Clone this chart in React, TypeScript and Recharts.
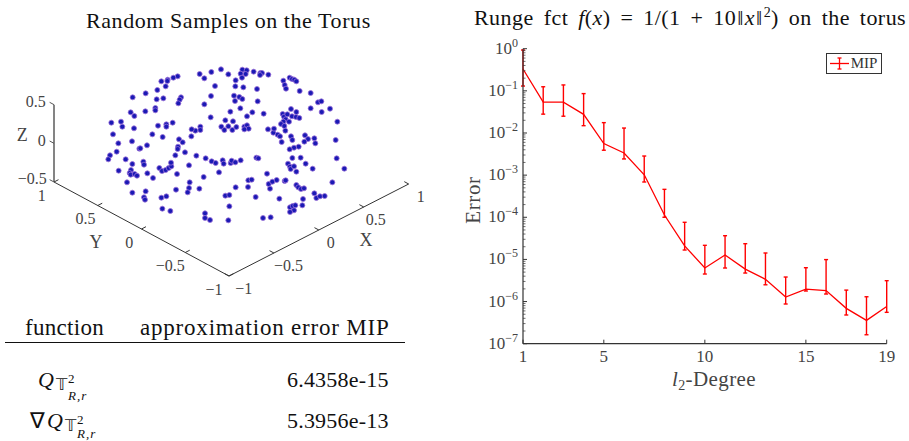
import {
  ScatterChart, Scatter, XAxis, YAxis, ReferenceLine, ReferenceDot,
  LineChart, Line, ErrorBar, Legend, Label,
} from 'recharts'

const SERIF = '"Liberation Serif", serif'

// right chart: error per degree
const degrees = [1, 2, 3, 4, 5, 6, 7, 8, 9, 10, 11, 12, 13, 14, 15, 16, 17, 18, 19]
const meanError = [0.33, 0.054, 0.054, 0.0277, 0.0056, 0.00335, 0.00102, 1.13e-4, 2.1e-5, 6.25e-6, 1.27e-5, 5.9e-6, 3.37e-6, 1.28e-6, 1.98e-6, 1.82e-6, 6.9e-7, 3.58e-7, 7.6e-7]
const lowError = [0.13, 0.028, 0.025, 0.0149, 0.0039, 0.00242, 6.87e-4, 1.0e-4, 1.67e-5, 4.5e-6, 6.25e-6, 4.75e-6, 2.5e-6, 8.75e-7, 1.78e-6, 1.51e-6, 4.8e-7, 1.63e-7, 5.55e-7]
const highError = [0.93, 0.125, 0.138, 0.086, 0.0176, 0.0131, 0.00284, 4.6e-4, 7.6e-5, 2.16e-5, 3.65e-5, 2.36e-5, 1.42e-5, 3.82e-6, 6.35e-6, 9.9e-6, 1.87e-6, 1.3e-6, 3.13e-6]
const degreeTicks = [1, 5, 10, 15, 19]
const decades = [-7, -6, -5, -4, -3, -2, -1, 0]
const minorSteps = [2, 3, 4, 5, 6, 7, 8, 9]

const errorTicks: number[] = []
decades.forEach((d) => {
  errorTicks.push(Math.pow(10, d))
  if (d < 0) minorSteps.forEach((m) => errorTicks.push(m * Math.pow(10, d)))
})

const errorData = degrees.map((degree, i) => ({
  degree,
  mean: meanError[i],
  err: [meanError[i] - lowError[i], highError[i] - meanError[i]],
}))

// left chart: the samples as seen in the view plane of the 3D plot
const samples = [
  [599,222],[613,235],[634,216],[663,208],[685,223],[727,209],[740,211],[722,221],[737,222],[726,233],[761,215],[781,219],[786,219],[780,225],[805,224],[707,241],[706,259],[645,258],[730,262],[771,267],
  [850,242],[854,255],[858,266],[869,233],[876,237],[883,239],[889,244],[899,273],[932,279],
  [533,229],[520,233],[503,239],[502,243],[484,244],[497,259],[472,270],[437,280],[398,292],
  [470,298],[490,295],[543,292],[539,299],[535,310],[466,324],[466,331],[436,334],[392,337],[403,348],[334,368],[363,365],[367,380],[402,385],
  [474,377],[499,373],[499,380],[518,368],[457,403],[488,411],[339,403],[355,430],[396,424],[418,446],[421,445],[441,436],[350,455],[330,466],[325,478],[377,478],[397,492],[430,485],[432,494],
  [356,512],[393,510],[389,519],[392,524],[404,522],[411,527],[442,520],[459,534],[381,547],[397,578],[437,574],[432,592],[435,599],[484,593],[499,589],[487,626],[511,633],
  [478,504],[486,513],[497,510],[506,504],[514,499],[513,488],[531,522],[526,466],[534,440],[533,447],[555,457],[537,418],[548,427],[567,496],[589,467],[617,475],[635,484],[647,489],[668,481],[671,491],[692,489],[695,482],[706,487],[722,481],[657,517],[611,531],[569,547],[567,564],[563,577],[528,569],[598,566],[615,640],[615,654],[630,660],[685,661],[688,619],[676,587],[688,585],[707,562],[745,541],[755,539],[744,561],[767,591],[801,521],[806,552],[817,545],[830,540],[810,566],[854,543],[857,541],[838,596],[789,654],[812,652],[769,473],[775,475],
  [864,491],[870,500],[872,507],[882,499],[889,515],[917,491],[938,506],[877,474],[902,473],[889,555],[895,562],[903,567],[912,565],[943,580],[949,594],[960,589],[974,588],[997,547],[1033,506],[1010,475],[1007,420],[1012,365],[990,326],[965,336],[954,307],[964,304],[932,325],
  [873,327],[889,336],[848,342],[852,350],[862,343],[876,349],[888,351],[898,354],[857,358],[850,365],[843,372],[867,365],[853,378],[856,392],[873,409],[877,420],[915,406],[924,417],[943,415],[913,425],[946,430],[896,440],[882,443],[869,448],[845,426],[833,404],[820,398],[822,386],[804,388],[840,409],
  [870,622],[878,618],[886,616],[907,616],[909,597],[882,631],[870,636],
  [632,352],[613,313],[633,288],[702,287],[705,303],[718,291],[727,297],[773,304],[721,325],[691,335],[741,349],[757,337],[791,341],[676,361],[699,364],[664,380],[673,390],[685,379],[697,390],[709,381],[733,380],[741,376],[746,386],[733,388],[601,380],[601,390],[586,392],[575,388],[574,409],
].map(([u, v]) => ({ u, v }))

const xyTicks = [-1, -0.5, 0, 0.5, 1]
const zTicks = [-0.5, 0, 0.5]

// view-plane position of a point of the 3D box
const project = (x: number, y: number, z: number) => ({
  u: 687 + ((x + 1) / 2) * 539 - ((y + 1) / 2) * 525,
  v: 828 - ((x + 1) / 2) * 276 - ((y + 1) / 2) * 282 - (z + 0.5) * 232,
})

const fmt = (t: number) => String(t).replace('-', '\u2212')

const seg = (a: { u: number; v: number }, b: { u: number; v: number }) => [
  { x: a.u, y: a.v },
  { x: b.u, y: b.v },
]

const viewLabel = (u: number, v: number, value: string, size: number, fill = '#444') => (
  <ReferenceDot
    key={`${value}-${u}-${v}`}
    x={u}
    y={v}
    r={0}
    ifOverflow="visible"
    label={{ value, position: 'center', fill, fontSize: size, fontFamily: SERIF }}
  />
)

const SampleDot = (p: any) => (
  <circle cx={p.cx} cy={p.cy} r={2.5} fill="#1a1ab4" stroke="#9a70d8" strokeWidth={0.8} />
)

const TorusPlot = () => (
  <ScatterChart width={430} height={300} margin={{ top: 0, right: 0, bottom: 0, left: 0 }}>
    <XAxis type="number" dataKey="u" domain={[0, 1290]} hide />
    <YAxis type="number" dataKey="v" domain={[0, 900]} reversed hide />
    <ReferenceLine segment={seg(project(-1, 1, -0.5), project(-1, -1, -0.5))} stroke="#333" strokeWidth={1} />
    <ReferenceLine segment={seg(project(-1, -1, -0.5), project(1, -1, -0.5))} stroke="#333" strokeWidth={1} />
    <ReferenceLine segment={seg(project(-1, 1, -0.5), project(-1, 1, 0.5))} stroke="#777" strokeWidth={1.8} />
    {xyTicks.map((t) => (
      <ReferenceLine key={`xt${t}`} segment={seg(project(t, -1, -0.5), project(t, -0.95, -0.5))} stroke="#333" strokeWidth={1} />
    ))}
    {xyTicks.map((t) => (
      <ReferenceLine key={`yt${t}`} segment={seg(project(-1, t, -0.5), project(-0.95, t, -0.5))} stroke="#333" strokeWidth={1} />
    ))}
    {zTicks.map((t) => (
      <ReferenceLine key={`zt${t}`} segment={seg(project(-1, 1, t), project(-1, 1.05, t))} stroke="#555" strokeWidth={1} />
    ))}
    {xyTicks.map((t) => {
      const p = project(t, -1, -0.5)
      return viewLabel(p.u + 36 + (t < 0 ? 8 : 0), p.v + 38, fmt(t), 16)
    })}
    {xyTicks.map((t) => {
      const p = project(-1, t, -0.5)
      return viewLabel(p.u - 37 - (t < 0 ? 8 : 0), p.v + 39, fmt(t), 16)
    })}
    {zTicks.map((t) => {
      const p = project(-1, 1, t)
      return viewLabel(p.u - 55 + (t === 0 ? 18 : 0) - (t < 0 ? 10 : 0), p.v - 10, fmt(t), 16)
    })}
    {viewLabel(67, 403, 'Z', 18)}
    {viewLabel(288, 725, 'Y', 18)}
    {viewLabel(1098, 720, 'X', 18)}
    <Scatter data={samples} isAnimationActive={false} shape={SampleDot} />
  </ScatterChart>
)

const DegreeTick = (p: any) => (
  <g>
    <line x1={p.x} x2={p.x} y1={p.y - 12} y2={p.y - 8} stroke="#333" strokeWidth={1} />
    <text x={p.x} y={p.y + 10} textAnchor="middle" fontSize={17} fontFamily={SERIF} fill="#444">
      {p.payload.value}
    </text>
  </g>
)

const ErrorTick = (p: any) => {
  const exp = Math.log10(p.payload.value)
  const major = Math.abs(exp - Math.round(exp)) < 1e-6
  return (
    <g>
      <line x1={p.x + 8} x2={p.x + (major ? 12 : 10.5)} y1={p.y} y2={p.y} stroke="#333" strokeWidth={major ? 1 : 0.7} />
      {major && (
        <text x={p.x + 3} y={p.y + 5} textAnchor="end" fontSize={17} fontFamily={SERIF} fill="#444">
          10
          <tspan dy={-7} fontSize={12}>{fmt(Math.round(exp))}</tspan>
        </text>
      )}
    </g>
  )
}

const DegreeLabel = () => (
  <text x={264} y={356} textAnchor="middle" fontSize={21} letterSpacing={0.4} fontFamily={SERIF} fill="#444">
    <tspan fontStyle="italic">l</tspan>
    <tspan dy={4} fontSize={14}>2</tspan>
    <tspan dy={-4}>-Degree</tspan>
  </text>
)

const ErrorLabel = () => (
  <text x={0} y={0} transform="translate(30,170) rotate(-90)" textAnchor="middle" fontSize={21} letterSpacing={0.6} fontFamily={SERIF} fill="#444">
    Error
  </text>
)

const MipLegend = () => (
  <div
    style={{
      boxSizing: 'border-box', width: 56, height: 21, border: '1px solid #333', background: '#fff',
      display: 'flex', alignItems: 'center', paddingLeft: 3,
      fontFamily: SERIF, fontSize: 15, color: '#333',
    }}
  >
    <svg width={20} height={15} style={{ flex: 'none' }}>
      <line x1={0} x2={19} y1={7.5} y2={7.5} stroke="red" strokeWidth={1.3} />
      <line x1={9.5} x2={9.5} y1={2} y2={13} stroke="red" strokeWidth={1.3} />
      <line x1={7.5} x2={11.5} y1={2} y2={2} stroke="red" strokeWidth={1.3} />
      <line x1={7.5} x2={11.5} y1={13} y2={13} stroke="red" strokeWidth={1.3} />
    </svg>
    <span style={{ marginLeft: 1 }}>MIP</span>
  </div>
)

const ErrorPlot = () => (
  <LineChart width={459} height={370} data={errorData} margin={{ top: 18.7, right: 22.3, bottom: 21.3, left: 0 }}>
    <XAxis
      type="number"
      dataKey="degree"
      domain={[1, 19]}
      ticks={degreeTicks}
      interval={0}
      height={35}
      tickLine={false}
      tick={DegreeTick}
      axisLine={{ stroke: '#333', strokeWidth: 1.2 }}
    >
      <Label content={DegreeLabel} />
    </XAxis>
    <YAxis
      scale="log"
      domain={[1e-7, 1]}
      ticks={errorTicks}
      interval={0}
      width={73}
      allowDataOverflow
      tickLine={false}
      tick={ErrorTick}
      axisLine={{ stroke: '#333', strokeWidth: 1.2 }}
    >
      <Label content={ErrorLabel} />
    </YAxis>
    <Legend
      content={MipLegend}
      layout="horizontal"
      verticalAlign="middle"
      align="center"
      wrapperStyle={{ left: 375.7, top: 23.3, width: 56, bottom: 'auto' }}
    />
    <Line dataKey="mean" name="MIP" stroke="red" strokeWidth={1.3} dot={false} isAnimationActive={false}>
      <ErrorBar dataKey="err" width={2} stroke="red" strokeWidth={1.4} isAnimationActive={false} />
    </Line>
  </LineChart>
)

const abs = (left: number, top: number, extra: any = {}) => ({
  position: 'absolute' as const, left, top, fontFamily: SERIF, color: '#111', whiteSpace: 'nowrap' as const, lineHeight: 1, ...extra,
})

// Q subscript: double-struck T with the 2 above and R,r below
const QTerm = ({ left, top, lowOffset = 20 }: { left: number; top: number; lowOffset?: number }) => (
  <>
    <i style={abs(left, top, { fontSize: 22 })}>Q</i>
    <span style={abs(left + 18, top + 8, { fontSize: 16 })}>{'\u{1D54B}'}</span>
    <span style={abs(left + 30, top + 3, { fontSize: 13 })}>2</span>
    <i style={abs(left + 30, top + lowOffset, { fontSize: 13, letterSpacing: 1 })}>R,r</i>
  </>
)

export default function App() {
  return (
    <div style={{ position: 'absolute', left: 0, top: 0, width: 909, height: 441, overflow: 'hidden', background: '#fff' }}>
      <div style={abs(86, 10, { fontSize: 22, letterSpacing: 0.57 })}>Random Samples on the Torus</div>
      <div style={abs(474, 7, { fontSize: 22, letterSpacing: 0.45, wordSpacing: 4 })}>
        Runge fct <i>f</i>(<i>x</i>) = 1/(1 + 10<span style={{ margin: '0 1px' }}>‖</span><i>x</i><span style={{ margin: '0 1px' }}>‖</span><sup style={{ fontSize: 14, lineHeight: 0 }}>2</sup>) on the torus
      </div>
      <div style={abs(0, 0)}><TorusPlot /></div>
      <div style={abs(450, 30)}><ErrorPlot /></div>

      <div style={abs(25, 316, { fontSize: 23, letterSpacing: 0.3 })}>function</div>
      <div style={abs(140, 316, { fontSize: 23, letterSpacing: 0.8 })}>approximation error MIP</div>
      <div style={{ position: 'absolute', left: 5, top: 342, width: 400, height: 1, background: '#111' }} />
      <QTerm left={38} top={369} />
      <span style={abs(30, 410, { fontSize: 22 })}>∇</span>
      <QTerm left={47} top={410} lowOffset={17} />
      <div style={abs(287, 369, { fontSize: 22, letterSpacing: 0.2 })}>6.4358e-15</div>
      <div style={abs(287, 410, { fontSize: 22, letterSpacing: 0.2 })}>5.3956e-13</div>
    </div>
  )
}
